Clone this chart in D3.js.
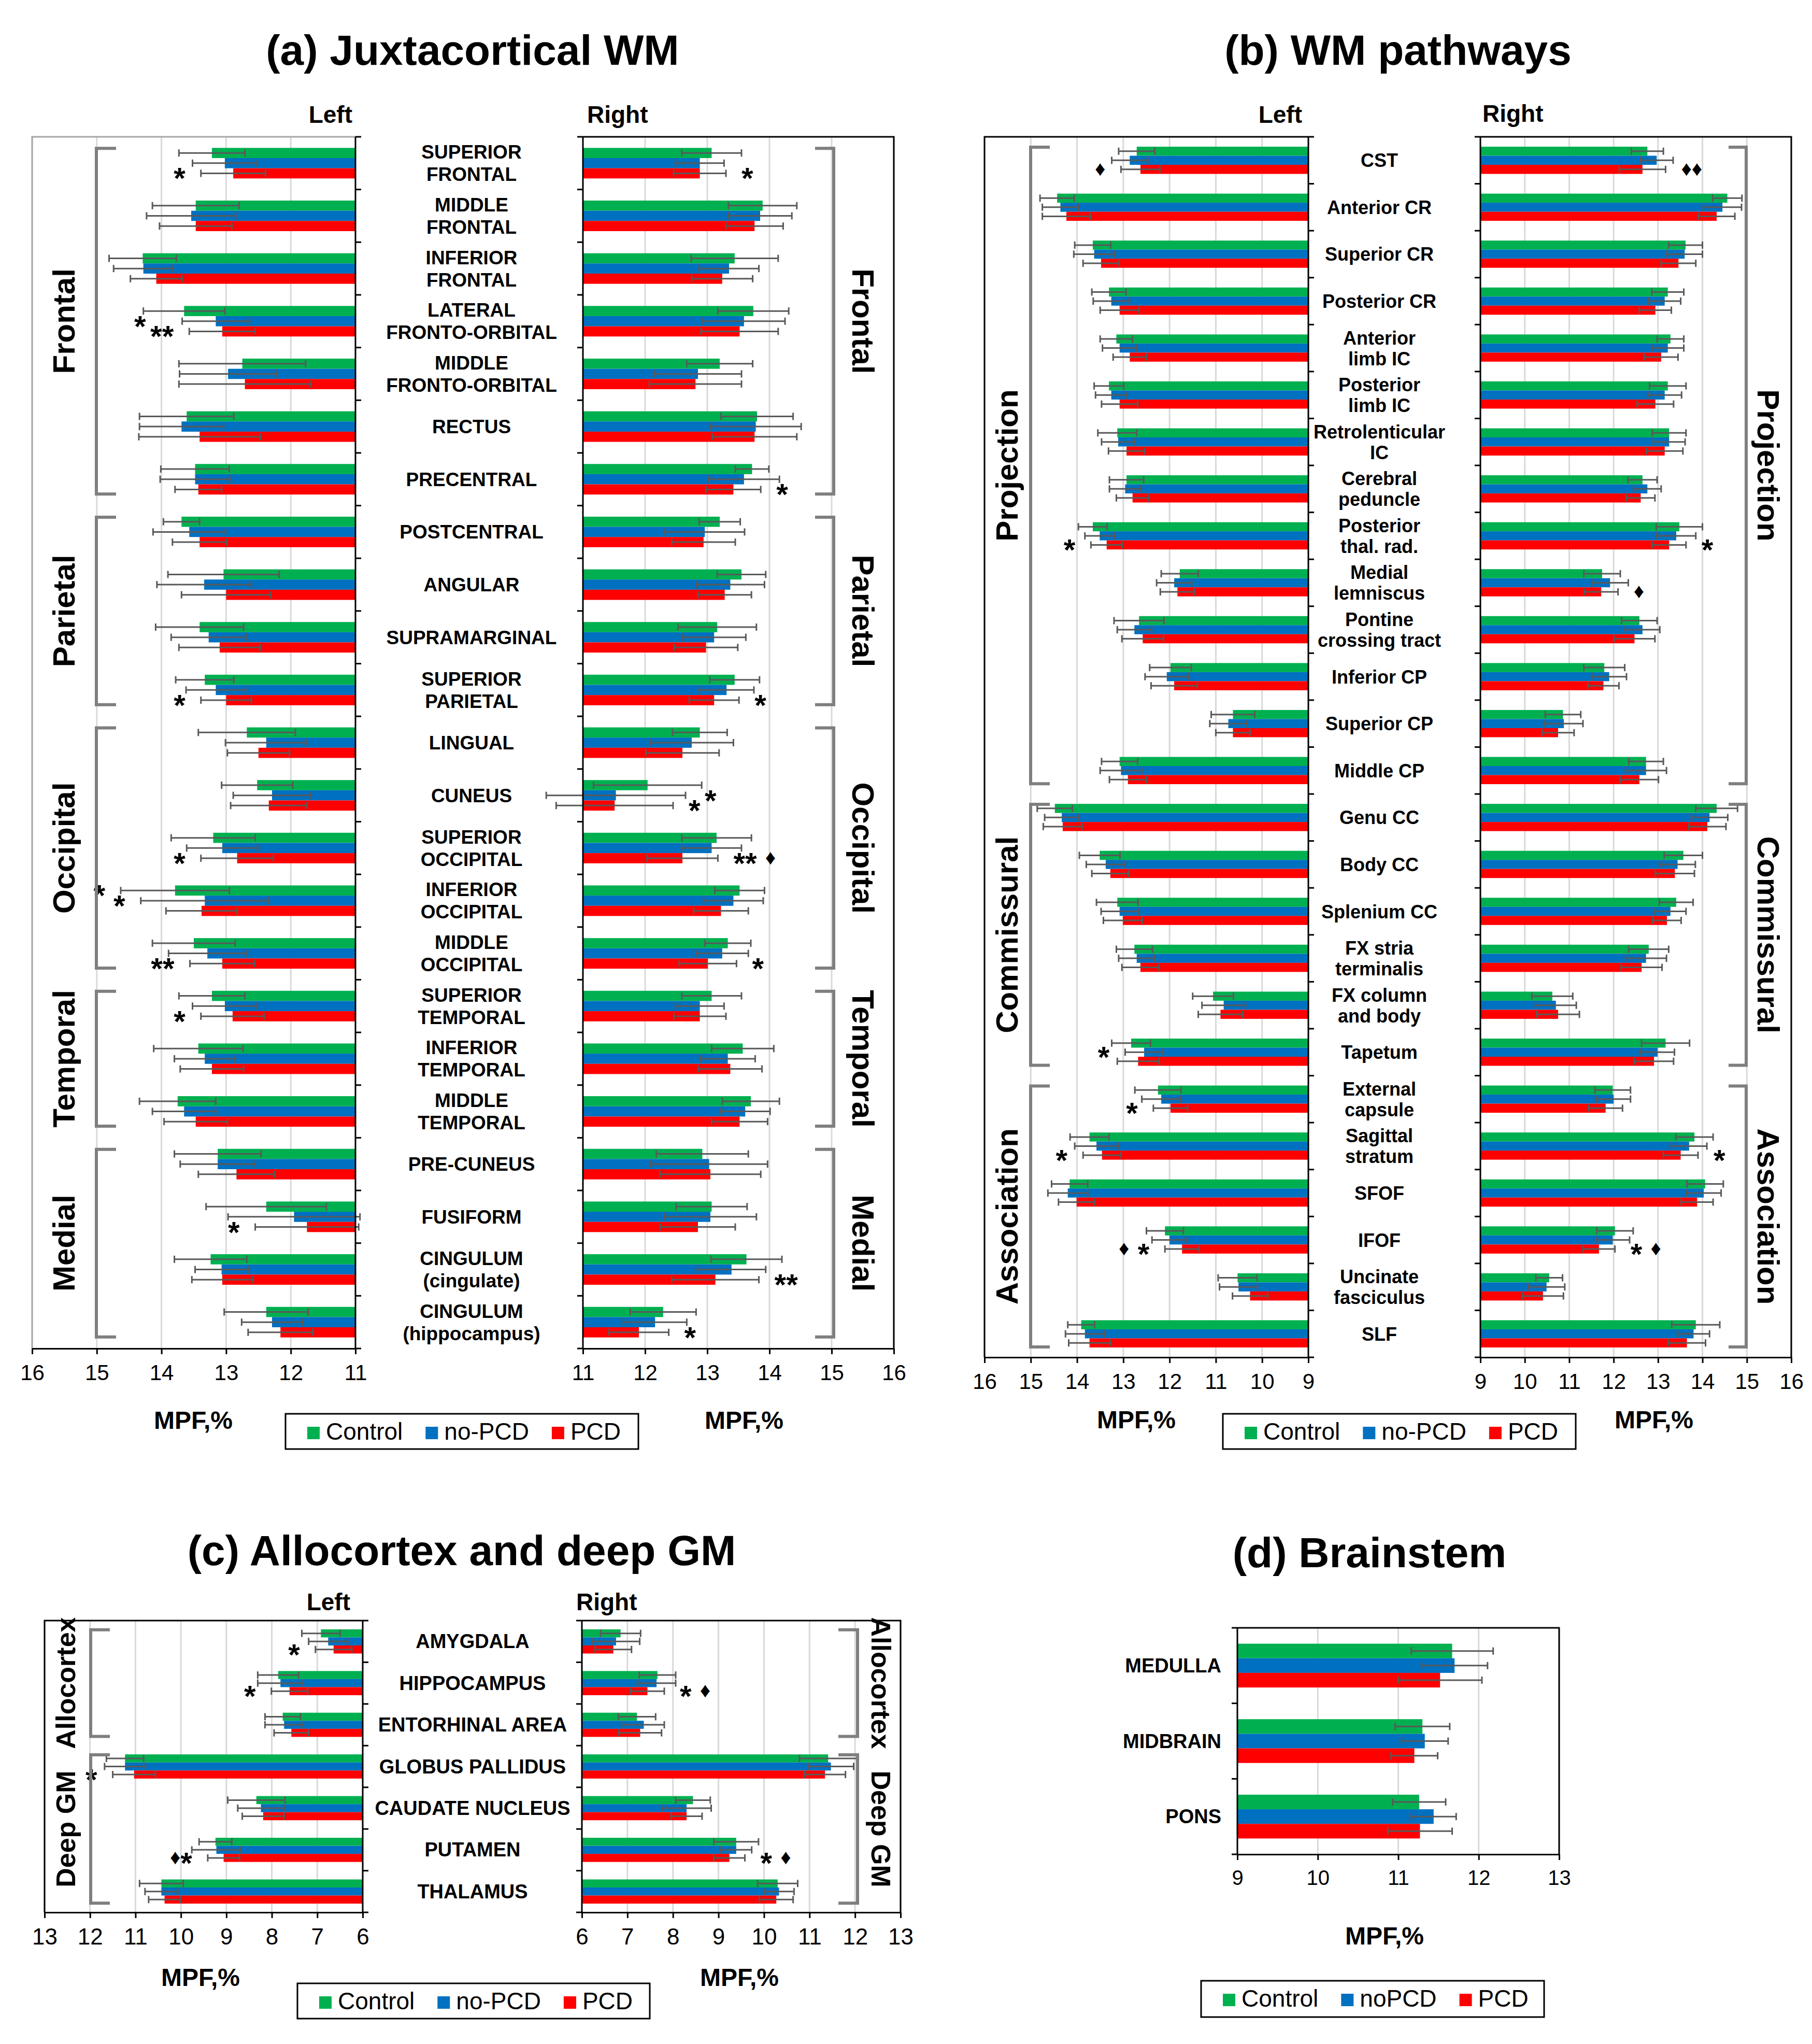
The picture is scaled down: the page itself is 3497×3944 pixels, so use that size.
<!DOCTYPE html>
<html>
<head>
<meta charset="utf-8">
<script src="https://cdn.jsdelivr.net/npm/d3@7"></script>
<style>
  body { margin: 0; background: #fff; }
  text { font-family: "Liberation Sans", Arial, sans-serif; }
</style>
</head>
<body>
<svg id="chart" width="3497" height="3944"></svg>
<script>
// groups and colours
const groupNames = ["Control", "no-PCD", "PCD"];
const groupColors = ["#00B050", "#0070C0", "#FF0000"];

// ---- (a) Juxtacortical WM ----
const aRegions = ["SUPERIOR\nFRONTAL", "MIDDLE\nFRONTAL", "INFERIOR\nFRONTAL", "LATERAL\nFRONTO-ORBITAL",
  "MIDDLE\nFRONTO-ORBITAL", "RECTUS", "PRECENTRAL", "POSTCENTRAL", "ANGULAR", "SUPRAMARGINAL",
  "SUPERIOR\nPARIETAL", "LINGUAL", "CUNEUS", "SUPERIOR\nOCCIPITAL", "INFERIOR\nOCCIPITAL",
  "MIDDLE\nOCCIPITAL", "SUPERIOR\nTEMPORAL", "INFERIOR\nTEMPORAL", "MIDDLE\nTEMPORAL", "PRE-CUNEUS",
  "FUSIFORM", "CINGULUM\n(cingulate)", "CINGULUM\n(hippocampus)"];
const aLeftMean = [
  [13.22,13.47,14.29,13.65,12.75,13.61,13.48,13.69,13.04,13.41,13.33,12.68,12.52,13.20,13.79,13.50,13.22,13.43,13.75,13.13,12.38,13.24,12.38],
  [13.02,13.54,14.28,13.16,12.97,13.69,13.48,13.57,13.34,13.27,13.16,12.38,12.29,13.06,13.33,13.29,13.02,13.33,13.65,13.13,11.95,13.07,12.29],
  [12.89,13.47,14.08,13.06,12.71,13.41,13.43,13.41,13.00,13.10,13.00,12.50,12.34,12.83,13.38,13.06,12.90,13.22,13.47,12.84,11.75,13.06,12.16]];
const aLeftSd = [
  [.51,.67,.52,.63,.98,.73,.53,.28,.86,.68,.45,.75,.55,.65,.84,.64,.51,.69,.59,.67,.93,.56,.65],
  [.50,.69,.46,.52,.75,.65,.54,.56,.73,.58,.46,.63,.60,.55,.99,.60,.50,.47,.49,.58,1.02,.41,.47],
  [.50,.56,.40,.51,1.02,.94,.36,.42,.69,.63,.39,.48,.59,.56,.55,.50,.49,.49,.49,.59,.80,.47,.50]];
const aRightMean = [
  [13.07,13.89,13.44,13.74,13.20,13.80,13.72,13.20,13.55,13.16,13.44,12.88,12.04,13.15,13.52,13.33,13.07,13.57,13.70,12.92,13.07,13.63,12.29],
  [12.88,13.85,13.35,13.59,12.85,13.78,13.59,12.96,13.37,13.11,13.31,12.75,11.53,13.07,13.42,13.24,12.88,13.33,13.61,13.03,13.05,13.39,12.16],
  [12.88,13.76,13.24,13.52,12.81,13.76,13.42,12.94,13.28,12.98,13.11,12.60,11.51,12.60,13.22,13.01,12.88,13.37,13.52,13.05,12.85,13.13,11.90]];
const aRightSd = [
  [.48,.55,.70,.57,.53,.58,.27,.33,.39,.63,.40,.44,.87,.56,.40,.37,.48,.50,.46,.74,.57,.57,.53],
  [.39,.51,.48,.66,.70,.73,.57,.64,.55,.51,.44,.67,1.12,.48,.48,.42,.39,.44,.40,.94,.74,.55,.51],
  [.42,.46,.49,.62,.74,.68,.44,.51,.43,.51,.40,.59,.94,.57,.44,.46,.42,.51,.45,.81,.60,.70,.48]];
// [region index, group index, marker]
const aLeftMarks = [[0,2,"*"],[3,1,"*"],[3,2,"**"],[10,2,"*"],[13,2,"*"],[14,0,"*"],[14,1,"*"],[15,2,"**"],[16,2,"*"],[20,2,"*"]];
const aRightMarks = [[0,2,"*"],[6,2,"*"],[10,2,"*"],[12,1,"*"],[12,2,"*"],[13,2,"** \u2666"],[15,2,"*"],[21,2,"**"],[22,2,"*"]];
const aLobes = [["Frontal",0,6],["Parietal",7,10],["Occipital",11,15],["Temporal",16,18],["Medial",19,22]];
const aTicks = [11,12,13,14,15,16];

// ---- (b) WM pathways ----
const bTracts = ["CST", "Anterior CR", "Superior CR", "Posterior CR", "Anterior\nlimb IC", "Posterior\nlimb IC",
  "Retrolenticular\nIC", "Cerebral\npeduncle", "Posterior\nthal. rad.", "Medial\nlemniscus", "Pontine\ncrossing tract",
  "Inferior CP", "Superior CP", "Middle CP", "Genu CC", "Body CC", "Splenium CC", "FX stria\nterminalis",
  "FX column\nand body", "Tapetum", "External\ncapsule", "Sagittal\nstratum", "SFOF", "IFOF",
  "Uncinate\nfasciculus", "SLF"];
const bLeftMean = [
  [12.71,14.43,13.66,13.31,13.15,13.31,13.13,12.93,13.66,11.78,12.66,11.98,10.63,13.08,14.48,13.51,13.13,12.76,11.06,12.83,12.25,13.73,14.16,12.10,10.53,13.91],
  [12.86,14.36,13.63,13.26,13.08,13.26,13.11,12.96,13.51,11.90,12.76,12.06,10.73,13.05,14.33,13.38,13.08,12.71,10.83,12.55,12.18,13.58,14.20,12.00,10.51,13.83],
  [12.63,14.23,13.48,13.08,12.86,13.08,12.93,12.80,13.36,11.83,12.58,11.90,10.63,12.90,14.31,13.28,13.01,12.63,10.90,12.68,11.98,13.46,14.01,11.73,10.26,13.73]];
const bLeftSd = [
  [.39,.37,.39,.37,.35,.32,.42,.37,.31,.40,.54,.45,.47,.39,.38,.44,.45,.39,.44,.42,.50,.42,.39,.40,.42,.29],
  [.39,.39,.44,.39,.37,.34,.36,.34,.32,.38,.37,.47,.40,.45,.37,.42,.40,.39,.47,.41,.42,.47,.43,.38,.41,.42],
  [.42,.52,.39,.42,.36,.39,.39,.35,.34,.37,.45,.50,.37,.40,.42,.40,.42,.40,.48,.45,.37,.41,.39,.37,.38,.45]];
const bRightMean = [
  [12.76,14.56,13.62,13.22,13.28,13.22,13.25,12.65,13.48,11.74,12.58,11.79,10.86,12.73,14.32,13.57,13.41,12.79,10.62,13.17,11.98,13.82,14.06,12.03,10.55,13.85],
  [12.97,14.45,13.60,13.15,13.22,13.15,13.25,12.76,13.41,11.92,12.65,11.90,10.88,12.73,14.16,13.44,13.28,12.73,10.70,12.99,12.00,13.70,14.03,11.98,10.49,13.80],
  [12.65,14.32,13.46,12.94,13.07,12.94,13.15,12.61,13.25,11.72,12.47,11.77,10.75,12.58,14.11,13.38,13.20,12.63,10.75,12.91,11.82,13.51,13.88,11.67,10.41,13.65]];
const bRightSd = [
  [.36,.33,.38,.36,.30,.41,.38,.33,.52,.41,.40,.46,.40,.39,.47,.43,.38,.45,.46,.54,.40,.42,.41,.41,.30,.54],
  [.37,.43,.40,.36,.36,.38,.36,.31,.44,.41,.39,.39,.43,.46,.41,.40,.35,.46,.46,.38,.38,.40,.39,.38,.41,.36],
  [.52,.41,.39,.36,.38,.41,.41,.32,.38,.38,.46,.35,.36,.43,.42,.44,.32,.46,.48,.44,.38,.39,.36,.36,.46,.42]];
const bLeftMarks = [[0,2,"\u2666"],[8,2,"*"],[19,1,"*"],[20,2,"*"],[21,2,"*"],[23,2,"\u2666  *"]];
const bRightMarks = [[0,2,"\u2666\u2666"],[8,2,"*"],[9,2,"\u2666"],[21,2,"*"],[23,2,"* \u2666"]];
const bSystems = [["Projection",0,13],["Commissural",14,19],["Association",20,25]];
const bTicks = [9,10,11,12,13,14,15,16];

// ---- (c) Allocortex and deep GM ----
const cStructures = ["AMYGDALA", "HIPPOCAMPUS", "ENTORHINAL AREA", "GLOBUS PALLIDUS", "CAUDATE NUCLEUS", "PUTAMEN", "THALAMUS"];
const cLeftMean = [[6.92,7.86,7.76,11.23,8.34,9.24,10.43],[6.76,7.81,7.73,11.23,8.24,9.22,10.43],[6.64,7.61,7.57,11.03,8.19,9.06,10.36]];
const cLeftSd = [[.42,.45,.39,.41,.63,.36,.48],[.43,.50,.42,.45,.51,.54,.36],[.40,.40,.38,.47,.46,.35,.35]];
const cRightMean = [[6.85,7.66,7.21,11.41,8.44,9.39,10.30],[6.75,7.64,7.36,11.47,8.30,9.39,10.33],[6.69,7.44,7.28,11.34,8.30,9.24,10.27]];
const cRightSd = [[.44,.40,.41,.63,.38,.49,.44],[.52,.42,.45,.50,.54,.34,.33],[.40,.37,.47,.45,.34,.34,.37]];
const cLeftMarks = [[0,2,"*"],[1,2,"*"],[3,2,"*"],[5,2,"\u2666*"]];
const cRightMarks = [[1,2,"* \u2666"],[5,2,"* \u2666"]];
const cClasses = [["Allocortex",0,2],["Deep GM",3,6]];
const cTicks = [6,7,8,9,10,11,12,13];

// ---- (d) Brainstem ----
const dParts = ["MEDULLA", "MIDBRAIN", "PONS"];
const dMean = [[11.67,11.30,11.26],[11.70,11.33,11.44],[11.52,11.20,11.27]];
const dSd = [[.51,.34,.33],[.41,.29,.28],[.52,.29,.40]];
const dTicks = [9,10,11,12,13];

const svg = d3.select("#chart");
svg.append("rect").attr("width", 3497).attr("height", 3944).attr("fill", "#fff");

// significance marks beside the error bar ends: stars big, diamonds smaller and raised
function addMarks(g, marks, x, y, sub, o, outward) {
  const made = marks.map(([i, j, s]) => {
    const px = x(o.mean[j][i] + o.sd[j][i]) + outward * 30;
    const base = y(i) + sub(j) + sub.bandwidth() / 2 + 30;
    const t = g.append("text").attr("text-anchor", outward > 0 ? "start" : "end").attr("font-weight", "bold");
    let raised = false, first = null;
    s.match(/\u2666+|[^\u2666]+/g).forEach(run => {
      const dia = run[0] === "\u2666";
      const ts = t.append("tspan").attr("font-size", dia ? 40 : 58).text(run);
      if (!first) { first = ts; ts.attr("x", px).attr("y", dia ? base - 18 : base); }
      else if (dia !== raised) ts.attr("dy", dia ? -18 : 18);
      raised = dia;
    });
    return { i, j, px, first, node: t.node() };
  });
  // a mark directly above another one in the same region is pushed outwards
  d3.groups(made, d => d.i).forEach(([, list]) => {
    list.sort((a, b) => b.j - a.j);
    for (let k = 1; k < list.length; k++) {
      const lo = list[k - 1], up = list[k];
      if (lo.j - up.j !== 1) continue;
      const bl = lo.node.getBBox(), bu = up.node.getBBox();
      const shift = outward < 0 ? (bu.x + bu.width) - (bl.x - 8) : (bl.x + bl.width + 8) - bu.x;
      if (shift > 0) { up.px += outward * shift; up.first.attr("x", up.px); }
    }
  });
}

// one half-panel of horizontal bars; range[0] is where the bars start
function drawSide(o) {
  const n = o.mean[0].length;
  const x = d3.scaleLinear().domain([o.ticks[0], o.ticks[o.ticks.length - 1]]).range(o.range);
  const y = d3.scaleBand().domain(d3.range(n)).range([o.top, o.bottom]).paddingInner(0.42).paddingOuter(0.21);
  const sub = d3.scaleBand().domain([0, 1, 2]).range([0, y.bandwidth()]);
  const outward = o.range[1] > o.range[0] ? 1 : -1;
  const g = svg.append("g");
  const x0 = x(o.ticks[0]), xEnd = x(o.ticks[o.ticks.length - 1]);

  g.selectAll(".grid").data(o.ticks.slice(1)).join("line")
    .attr("x1", d => x(d)).attr("x2", d => x(d))
    .attr("y1", o.top).attr("y2", o.bottom)
    .attr("stroke", "#d9d9d9").attr("stroke-width", 3);

  const rows = [];
  o.mean.forEach((arr, j) => arr.forEach((m, i) => rows.push({ i, j, m, s: o.sd[j][i] })));
  const rowY = d => y(d.i) + sub(d.j);
  const rowC = d => y(d.i) + sub(d.j) + sub.bandwidth() / 2;

  g.selectAll(".bar").data(rows).join("rect")
    .attr("x", d => Math.min(x0, x(d.m)))
    .attr("width", d => Math.abs(x(d.m) - x0))
    .attr("y", rowY).attr("height", sub.bandwidth())
    .attr("fill", d => groupColors[d.j]);

  const eb = g.append("g").attr("stroke", "#595959").attr("stroke-width", 3);
  eb.selectAll(".w").data(rows).join("line")
    .attr("x1", d => x(d.m - d.s)).attr("x2", d => x(d.m + d.s))
    .attr("y1", rowC).attr("y2", rowC);
  [-1, 1].forEach(k => {
    eb.selectAll(".c" + (k + 1)).data(rows).join("line")
      .attr("x1", d => x(d.m + k * d.s)).attr("x2", d => x(d.m + k * d.s))
      .attr("y1", d => rowC(d) - 7).attr("y2", d => rowC(d) + 7);
  });

  // frame on top and far side
  g.append("path").attr("d", `M${x0},${o.top}H${xEnd}V${o.bottom}`)
    .attr("fill", "none").attr("stroke", o.frame || "#000").attr("stroke-width", 3);

  // category axis with ticks between the categories
  g.append("line").attr("x1", x0).attr("x2", x0).attr("y1", o.top).attr("y2", o.bottom)
    .attr("stroke", "#000").attr("stroke-width", 3);
  g.selectAll(".ytick").data(d3.range(n + 1)).join("line")
    .attr("x1", x0).attr("x2", x0 - outward * 11)
    .attr("y1", d => o.top + d * y.step()).attr("y2", d => o.top + d * y.step())
    .attr("stroke", "#000").attr("stroke-width", 3);

  const ax = g.append("g").attr("transform", `translate(0,${o.bottom})`)
    .call(d3.axisBottom(x).tickValues(o.ticks).tickFormat(d3.format("d"))
      .tickSize(11).tickSizeOuter(0).tickPadding(20));
  ax.select(".domain").attr("stroke-width", 3);
  ax.selectAll(".tick line").attr("stroke-width", 3);
  ax.selectAll("text").attr("font-size", o.tickFont || 42).attr("fill", "#000")
    .style("font-family", "'Liberation Sans', Arial, sans-serif");

  addMarks(g, o.marks || [], x, y, sub, o, outward);

  // region brackets with rotated group names
  (o.brackets || []).forEach(([name, a, b]) => {
    const y1 = o.top + a * y.step() + 0.22 * y.step();
    const y2 = o.top + (b + 1) * y.step() - 0.22 * y.step();
    g.append("path").attr("d", `M${o.arm},${y1}H${o.vx}V${y2}H${o.arm}`)
      .attr("fill", "none").attr("stroke", "#7f7f7f").attr("stroke-width", 6);
    g.append("text")
      .attr("transform", `translate(${o.lx},${(y1 + y2) / 2}) rotate(${outward > 0 ? 90 : -90})`)
      .attr("text-anchor", "middle").attr("dominant-baseline", "central")
      .attr("font-size", o.groupFont || 60).attr("font-weight", "bold").text(name);
  });
  return y;
}

function drawLabels(names, y, cx, font, lh, anchor) {
  const g = svg.append("g");
  names.forEach((name, i) => {
    const lines = name.split("\n");
    const cy = y(i) + y.bandwidth() / 2;
    lines.forEach((ln, k) => {
      g.append("text").attr("x", cx).attr("y", cy + 13 + (k - (lines.length - 1) / 2) * lh)
        .attr("text-anchor", anchor || "middle").attr("font-size", font).attr("font-weight", "bold").text(ln);
    });
  });
}

function txt(x, y, s, size, weight, anchor) {
  svg.append("text").attr("x", x).attr("y", y).attr("font-size", size)
    .attr("font-weight", weight).attr("text-anchor", anchor).text(s);
}

function drawLegend(x, y, w, h, names) {
  const g = svg.append("g");
  g.append("rect").attr("x", x).attr("y", y).attr("width", w).attr("height", h)
    .attr("fill", "#fff").attr("stroke", "#000").attr("stroke-width", 3);
  let cx = x + 42;
  names.forEach((nm, j) => {
    g.append("rect").attr("x", cx).attr("y", y + 25).attr("width", 24).attr("height", 24).attr("fill", groupColors[j]);
    const t = g.append("text").attr("x", cx + 36).attr("y", y + 50).attr("font-size", 46).text(nm);
    cx += 36 + t.node().getComputedTextLength() + 44;
  });
}

// ---------- panel (a) ----------
const aTop = 264, aBot = 2602;
const yA = drawSide({ mean: aLeftMean, sd: aLeftSd, ticks: aTicks, range: [686, 62], top: aTop, bottom: aBot,
  frame: "#a6a6a6", marks: aLeftMarks, brackets: aLobes, vx: 186, arm: 224, lx: 123 });
drawSide({ mean: aRightMean, sd: aRightSd, ticks: aTicks, range: [1125, 1725], top: aTop, bottom: aBot,
  marks: aRightMarks, brackets: aLobes, vx: 1609, arm: 1573, lx: 1665 });
drawLabels(aRegions, yA, 910, 37, 43);
txt(912, 125, "(a) Juxtacortical WM", 82, "bold", "middle");
txt(680, 237, "Left", 46, "bold", "end");
txt(1133, 237, "Right", 46, "bold", "start");
txt(373, 2757, "MPF,%", 48, "bold", "middle");
txt(1436, 2757, "MPF,%", 48, "bold", "middle");
drawLegend(551, 2728, 681, 68, groupNames);

// ---------- panel (b) ----------
const bTop = 264, bBot = 2619;
const yB = drawSide({ mean: bLeftMean, sd: bLeftSd, ticks: bTicks, range: [2525, 1900], top: bTop, bottom: bBot,
  marks: bLeftMarks, brackets: bSystems, vx: 1989, arm: 2026, lx: 1943 });
drawSide({ mean: bRightMean, sd: bRightSd, ticks: bTicks, range: [2857, 3457], top: bTop, bottom: bBot,
  marks: bRightMarks, brackets: bSystems, vx: 3370, arm: 3336, lx: 3412 });
drawLabels(bTracts, yB, 2662, 36, 40);
txt(2698, 125, "(b) WM pathways", 82, "bold", "middle");
txt(2513, 237, "Left", 46, "bold", "end");
txt(2861, 235, "Right", 46, "bold", "start");
txt(2193, 2756, "MPF,%", 48, "bold", "middle");
txt(3192, 2756, "MPF,%", 48, "bold", "middle");
drawLegend(2360, 2728, 681, 68, groupNames);

// ---------- panel (c) ----------
const cTop = 3127, cBot = 3690;
const yC = drawSide({ mean: cLeftMean, sd: cLeftSd, ticks: cTicks, range: [700, 86], top: cTop, bottom: cBot,
  marks: cLeftMarks, brackets: cClasses, vx: 175, arm: 212, lx: 127, groupFont: 52, tickFont: 44 });
drawSide({ mean: cRightMean, sd: cRightSd, ticks: cTicks, range: [1123, 1738], top: cTop, bottom: cBot,
  marks: cRightMarks, brackets: cClasses, vx: 1655, arm: 1618, lx: 1700, groupFont: 52, tickFont: 44 });
drawLabels(cStructures, yC, 912, 38, 40);
txt(891, 3020, "(c) Allocortex and deep GM", 82, "bold", "middle");
txt(676, 3107, "Left", 46, "bold", "end");
txt(1112, 3107, "Right", 46, "bold", "start");
txt(387, 3832, "MPF,%", 48, "bold", "middle");
txt(1427, 3832, "MPF,%", 48, "bold", "middle");
drawLegend(574, 3827, 680, 68, groupNames);

// ---------- panel (d) ----------
const yD = drawSide({ mean: dMean, sd: dSd, ticks: dTicks, range: [2388, 3009], top: 3141, bottom: 3578, tickFont: 40 });
drawLabels(dParts, yD, 2357, 38, 40, "end");
txt(2643, 3024, "(d) Brainstem", 82, "bold", "middle");
txt(2672, 3752, "MPF,%", 48, "bold", "middle");
drawLegend(2318, 3822, 662, 70, ["Control", "noPCD", "PCD"]);
</script>
</body>
</html>
